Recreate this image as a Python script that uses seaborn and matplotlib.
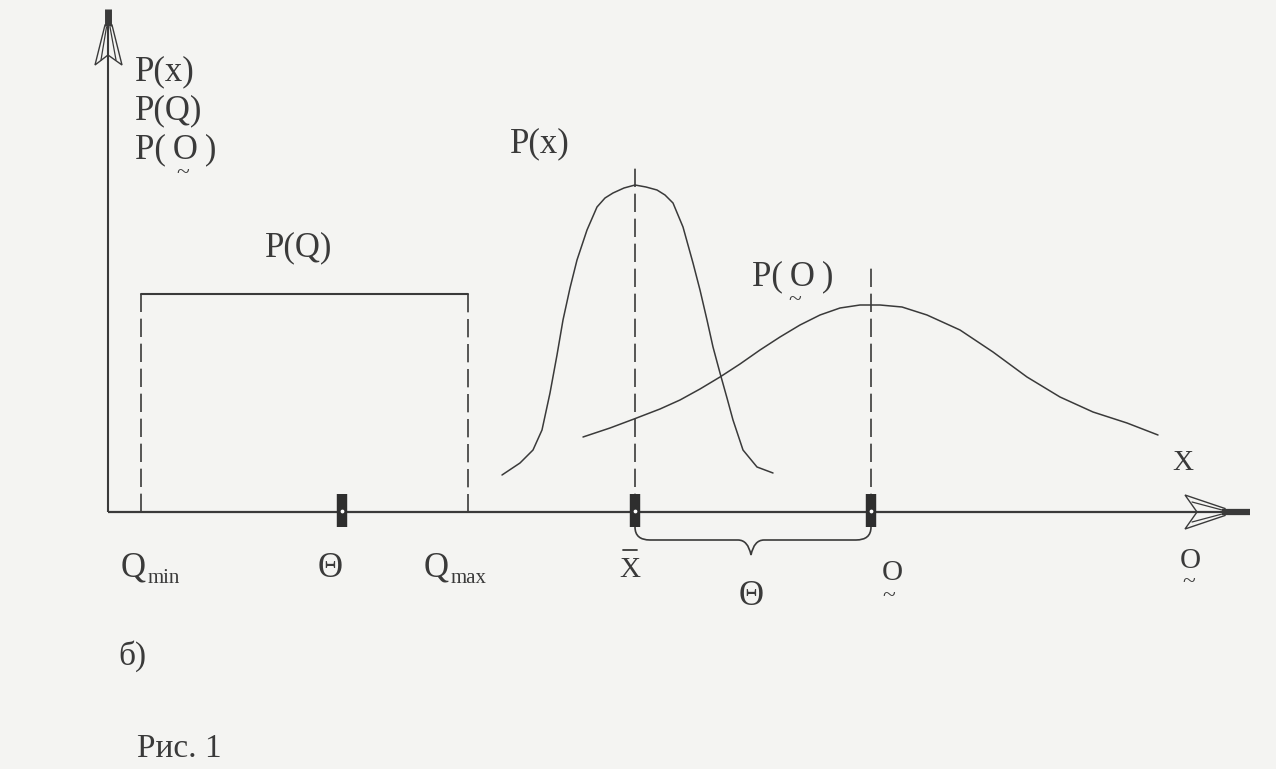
import numpy as np
import pandas as pd
import seaborn as sns
import matplotlib
matplotlib.use("Agg")
import matplotlib.pyplot as plt
from matplotlib.path import Path
from matplotlib.patches import PathPatch, Polygon

# ---------------- data (x position, height above the X axis) ----------------
px_x = [502, 520, 533, 542, 550, 557, 563, 570, 577, 587, 597, 605, 613, 624,
        635, 646, 657, 665, 673, 683, 693, 700, 707, 713, 720, 727, 733, 743,
        757, 773]
px_h = [37, 49, 62, 82, 119, 157, 192, 224, 252, 282, 305, 314, 319, 324,
        327, 325, 322, 317, 309, 285, 249, 222, 192, 165, 139, 114, 92, 62,
        45, 39]

po_x = [583, 610, 634, 660, 680, 700, 720, 740, 760, 780, 800, 820, 840, 860,
        880, 902, 927, 960, 993, 1027, 1060, 1093, 1127, 1158]
po_h = [75, 84, 93, 103, 112, 123, 135, 148, 162, 175, 187, 197, 204, 207,
        207, 205, 197, 182, 160, 135, 115, 100, 89, 77]

pq_x = [141, 141, 468, 468]          # uniform P(Q): Qmin .. Qmax
pq_h = [0, 218, 218, 0]

marker_x = [342, 635, 871]           # Θ, X̄, O on the axis
xbar_x, o_x = 635, 871
xbar_top, o_top = 347, 244           # dashed guide heights

INK = "#3a3a3a"
BG = "#f4f4f2"

sns.set_theme(style="white")
plt.rcParams["font.family"] = ["Liberation Serif", "DejaVu Serif"]

fig = plt.figure(figsize=(12.76, 7.69), dpi=100, facecolor=BG)
ax = fig.add_axes([0, 0, 1, 1])
ax.set_facecolor(BG)
ax.set_xlim(0, 1276)
ax.set_ylim(-257, 512)
ax.axis("off")

# axes
ax.plot([108, 108], [0, 488], color=INK, lw=1.5, solid_capstyle="butt")
ax.plot([108, 1225], [0, 0], color=INK, lw=1.6, solid_capstyle="butt")

# vertical arrow head (feathered)
ax.add_patch(Polygon([(105, 487), (95, 447), (108, 457), (122, 447), (112, 487)],
                     closed=True, fill=False, ec=INK, lw=1.0))
ax.plot([106.5, 101], [485, 452], color=INK, lw=0.9)
ax.plot([110, 116], [485, 452], color=INK, lw=0.9)
ax.plot([108, 108], [486, 503], color=INK, lw=5, solid_capstyle="butt")

# horizontal arrow head (feathered)
ax.add_patch(Polygon([(1225, 3.5), (1185, 17), (1197, 0), (1185, -17), (1225, -3.5)],
                     closed=True, fill=False, ec=INK, lw=1.0))
ax.plot([1192, 1224], [10, 1.5], color=INK, lw=0.9)
ax.plot([1192, 1224], [-10, -1.5], color=INK, lw=0.9)
ax.plot([1222, 1250], [0, 0], color=INK, lw=4.5, solid_capstyle="butt")

# P(Q) rectangle: solid top, dashed sides
ax.plot(pq_x[1:3], pq_h[1:3], color=INK, lw=1.5)
dash = (0, (11, 4))
ax.plot(pq_x[0:2], pq_h[0:2], color=INK, lw=1.2, linestyle=dash)
ax.plot(pq_x[2:4], pq_h[2:4], color=INK, lw=1.2, linestyle=dash)

# curves
dfx = pd.DataFrame({"x": px_x, "h": px_h})
dfo = pd.DataFrame({"x": po_x, "h": po_h})
sns.lineplot(data=dfx, x="x", y="h", ax=ax, color=INK, lw=1.1, sort=False,
             estimator=None)
sns.lineplot(data=dfo, x="x", y="h", ax=ax, color=INK, lw=1.1, sort=False,
             estimator=None)
ax.set_xlabel("")
ax.set_ylabel("")

# dashed guides
ax.plot([xbar_x, xbar_x], [0, xbar_top], color=INK, lw=1.2, linestyle=dash)
ax.plot([o_x, o_x], [0, o_top], color=INK, lw=1.2, linestyle=dash)

# markers on the axis
ax.vlines(marker_x, -15, 18, color="#2e2e2e", lw=7.5)
ax.scatter(marker_x, [1, 1, 1], s=3, color="white", zorder=5)

# brace between X̄ and O
verts = [(635, -15), (635, -28), (650, -28),
         (738, -28),
         (748, -28), (751, -43),
         (754, -28), (764, -28),
         (856, -28),
         (871, -28), (871, -15)]
codes = [Path.MOVETO, Path.CURVE3, Path.CURVE3,
         Path.LINETO,
         Path.CURVE3, Path.CURVE3,
         Path.CURVE3, Path.CURVE3,
         Path.LINETO,
         Path.CURVE3, Path.CURVE3]
ax.add_patch(PathPatch(Path(verts, codes), fill=False, ec=INK, lw=1.2))


def T(s, x, py, size, ha="left", va="baseline"):
    ax.text(x, 512 - py, s, fontsize=size, color=INK, ha=ha, va=va)


def tilde(x, py, size=17):
    ax.text(x, 512 - py, "~", fontsize=size, color=INK, ha="center", va="center")


PO = "P(\u2009O\u2009)"

# labels of the vertical axis
T("P(x)", 135, 80, 25)
T("P(Q)", 135, 119, 25)
T(PO, 135, 158, 25)
tilde(183, 174)

# curve labels
T("P(x)", 510, 152, 25)
T("P(Q)", 265, 256, 25)
T(PO, 752, 285, 25)
tilde(795, 301)
T("X", 1172, 470, 21)
T("O", 1180, 568, 21)
tilde(1189, 583)

# axis annotations
T("Q", 121, 577, 25)
T("min", 148, 583, 15)
T("Θ", 330, 577, 25, ha="center")
T("Q", 424, 577, 25)
T("max", 451, 583, 15)
T("X", 630, 577, 21, ha="center")
ax.plot([623, 637], [512 - 550, 512 - 550], color=INK, lw=1.3)
T("O", 892, 580, 21, ha="center")
tilde(889, 597)
T("Θ", 751, 605, 25, ha="center")

T("б)", 118, 665, 24)
T("Рис. 1", 137, 757, 24)

fig.savefig("out.png", dpi=100, facecolor=BG)
